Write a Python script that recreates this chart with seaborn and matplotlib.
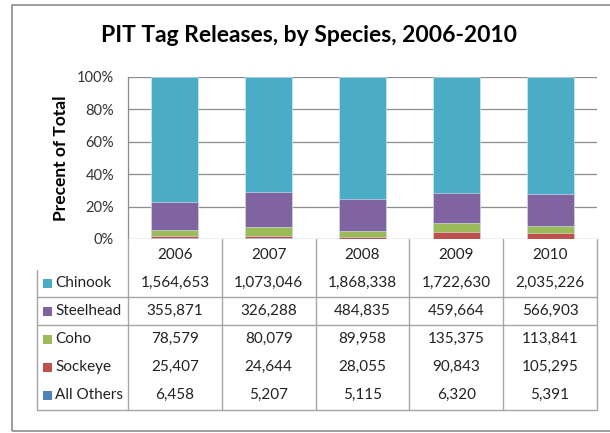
import matplotlib
matplotlib.use("Agg")
import matplotlib.pyplot as plt
from matplotlib.lines import Line2D
from matplotlib.patches import Rectangle
import numpy as np
import pandas as pd
import seaborn as sns

years = ["2006", "2007", "2008", "2009", "2010"]
species = ["Chinook", "Steelhead", "Coho", "Sockeye", "All Others"]
chinook = [1564653, 1073046, 1868338, 1722630, 2035226]
steelhead = [355871, 326288, 484835, 459664, 566903]
coho = [78579, 80079, 89958, 135375, 113841]
sockeye = [25407, 24644, 28055, 90843, 105295]
all_others = [6458, 5207, 5115, 6320, 5391]
colors = {"Chinook": "#4BACC6", "Steelhead": "#8064A2", "Coho": "#9BBB59",
          "Sockeye": "#C0504D", "All Others": "#4F81BD"}
yticks = [0, 20, 40, 60, 80, 100]

counts = pd.DataFrame({"Chinook": chinook, "Steelhead": steelhead, "Coho": coho,
                       "Sockeye": sockeye, "All Others": all_others}, index=years)
pct = counts.div(counts.sum(axis=1), axis=0) * 100
# stack from the bottom: All Others, Sockeye, Coho, Steelhead, Chinook
stack_order = species[::-1]
cum = pct[stack_order].cumsum(axis=1)

sns.set_theme(style="white")
plt.rcParams["font.family"] = ["Lato", "DejaVu Sans"]

W, H = 610, 433
fig = plt.figure(figsize=(W / 100, H / 100), dpi=100)

def fx(x):
    return x / W

def fy(y):
    return 1 - y / H

# chart frame
fig.add_artist(Rectangle((fx(12), fy(431)), fx(620) - fx(12), fy(5) - fy(431),
                         transform=fig.transFigure, fill=False, edgecolor="#8C8C8C", lw=1.2))

left, right, top, bottom = 128, 597, 77, 239
ax = fig.add_axes([fx(left), fy(bottom), fx(right) - fx(left), fy(top) - fy(bottom)])

# draw tallest cumulative level first, then overlay lower levels
for sp in stack_order[::-1]:
    df = pd.DataFrame({"year": years, "value": cum[sp].values})
    sns.barplot(data=df, x="year", y="value", color=colors[sp], width=0.5,
                saturation=1, ax=ax, edgecolor="#DDEFF4", linewidth=0.4, zorder=3)

ax.set_ylim(0, 100)
ax.set_xlim(-0.5, len(years) - 0.5)
ax.set_yticks(yticks)
ax.set_yticklabels([f"{t}%" for t in yticks], fontsize=10.5, color="#333333")
ax.tick_params(axis="y", length=0, pad=10)
ax.set_xticks([])
ax.set_xlabel("")
ax.set_ylabel("Precent of Total", fontsize=12.5, fontweight="bold", color="black", labelpad=6)
ax.yaxis.grid(True, color="#8C8C8C", lw=0.9)
ax.set_axisbelow(True)
for s in ["top", "right", "bottom"]:
    ax.spines[s].set_visible(False)
ax.spines["left"].set_color("#8C8C8C")
ax.spines["left"].set_linewidth(0.9)

fig.text(fx(309), fy(35), "PIT Tag Releases, by Species, 2006-2010", ha="center", va="center",
         fontsize=16.5, fontweight="bold", color="black")

# data table below the plot
line_c = "#A6A6A6"
fs = 11
col_edges = np.linspace(left, right, len(years) + 1)
for x in col_edges:
    fig.add_artist(Line2D([fx(x), fx(x)], [fy(bottom), fy(410)], transform=fig.transFigure,
                          color=line_c, lw=1))
fig.add_artist(Line2D([fx(37), fx(37)], [fy(270), fy(410)], transform=fig.transFigure,
                      color=line_c, lw=1))
for y in [297, 325, 410]:
    fig.add_artist(Line2D([fx(37), fx(right)], [fy(y), fy(y)], transform=fig.transFigure,
                          color=line_c, lw=1))

centers = (col_edges[:-1] + col_edges[1:]) / 2
for cx, yr in zip(centers, years):
    fig.text(fx(cx), fy(255), yr, ha="center", va="center", fontsize=fs, color="#222222")

row_y = [283, 311, 339, 367, 395]
for ry, sp in zip(row_y, species):
    fig.add_artist(Rectangle((fx(43), fy(ry + 4.5)), fx(9), 9 / H, transform=fig.transFigure,
                             facecolor=colors[sp], edgecolor="none"))
    fig.text(fx(55), fy(ry), sp, ha="left", va="center", fontsize=fs, color="#222222")
    for cx, v in zip(centers, counts[sp].values):
        fig.text(fx(cx), fy(ry), f"{v:,}", ha="center", va="center", fontsize=fs, color="#222222")

fig.savefig("out.png", dpi=100)
